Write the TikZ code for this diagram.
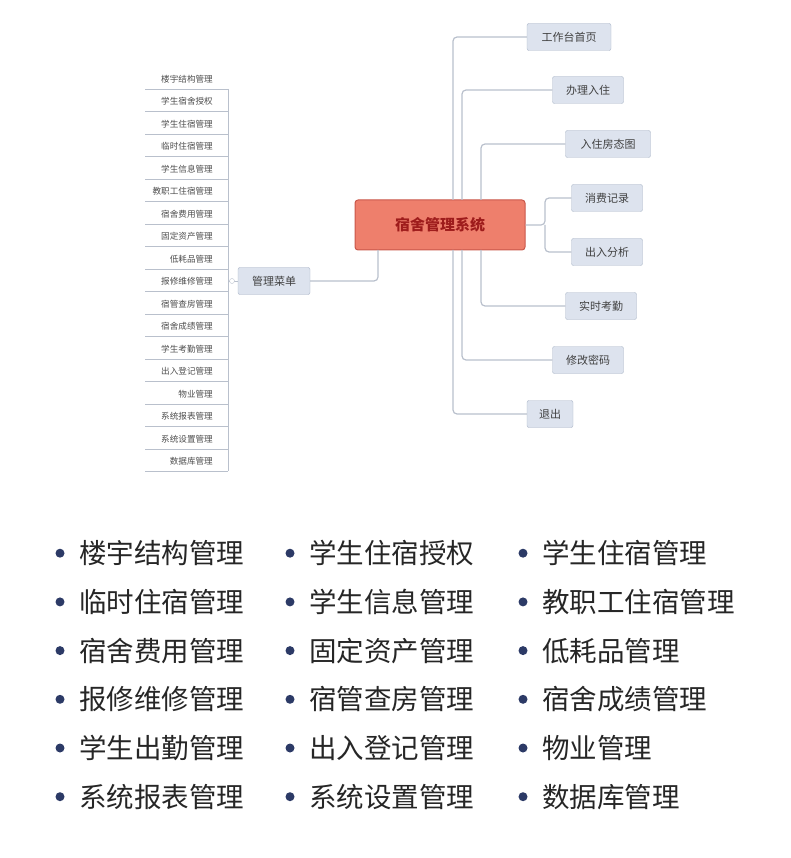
\documentclass[tikz,border=0pt]{standalone}
\usepackage{fontspec}
\setmainfont{Noto Sans CJK SC}
\usetikzlibrary{positioning}
\definecolor{boxfill}{HTML}{DDE3EE}
\definecolor{boxline}{HTML}{A9B4C6}
\definecolor{wire}{HTML}{B9C0CC}
\definecolor{rootfill}{HTML}{EE7F6C}
\definecolor{rootline}{HTML}{C9574A}
\definecolor{roottext}{HTML}{9E1C1C}
\definecolor{dotblue}{HTML}{2C3A66}
\tikzset{
  topic/.style={draw=boxline, fill=boxfill, rounded corners=2pt, inner sep=0, minimum height=27, font=\fontsize{11}{13}\selectfont, text=black!75},
  leaf/.style={inner sep=0, anchor=east, font=\fontsize{8.6}{10}\selectfont, text=black!70},
  wireline/.style={draw=wire, line width=1.2pt, rounded corners=4pt},
  item/.style={anchor=west, inner sep=0, font=\fontsize{27.5}{30}\selectfont, text=black!85}
}
\begin{document}
\begin{tikzpicture}[x=1pt, y=-1pt]
	\useasboundingbox (0,0) rectangle (790,858);
	
	\node (root) at (440,225) [draw=rootline, line width=1pt, fill=rootfill, rounded corners=3pt, minimum width=170, minimum height=50, font=\fontsize{15}{17}\selectfont\bfseries, text=roottext] {宿舍管理系统};
	
	\node (r1) at (569,37) [topic, minimum width=84] {工作台首页};
	\node (r2) at (588,90) [topic, minimum width=71] {办理入住};
	\node (r3) at (608,144) [topic, minimum width=85] {入住房态图};
	\node (r4) at (607,198) [topic, minimum width=71] {消费记录};
	\node (r5) at (607,252) [topic, minimum width=71] {出入分析};
	\node (r6) at (601,306) [topic, minimum width=71] {实时考勤};
	\node (r7) at (588,360) [topic, minimum width=71] {修改密码};
	\node (r8) at (550,414) [topic, minimum width=46] {退出};
	\node (menu) at (274,281) [topic, minimum width=72] {管理菜单};
	
	\draw[wireline] (453,200) |- (r1.west);
	\draw[wireline] (453,250) |- (r8.west);
	\draw[wireline] (462,200) |- (r2.west);
	\draw[wireline] (462,250) |- (r7.west);
	\draw[wireline] (481,200) |- (r3.west);
	\draw[wireline] (481,250) |- (r6.west);
	\draw[wireline] (root.east) -- (545,225) |- (r4.west);
	\draw[wireline] (545,225) |- (r5.west);
	\draw[wireline] (378,250) |- (menu.east);
	
	% left menu items
	\foreach \name [count=\i] in {楼宇结构管理,学生宿舍授权,学生住宿管理,临时住宿管理,学生信息管理,教职工住宿管理,宿舍费用管理,固定资产管理,低耗品管理,报修维修管理,宿管查房管理,宿舍成绩管理,学生考勤管理,出入登记管理,物业管理,系统报表管理,系统设置管理,数据库管理} {
		\node (m\i) at (213,{56.5+22.5*\i}) [leaf] {\name};
		\draw[draw=wire, line width=0.8pt] (145,{66.5+22.5*\i}) -- (228,{66.5+22.5*\i});
	}
	\draw[draw=wire, line width=0.8pt] (228,89) -- (228,471);
	\coordinate (hub) at (228,281);
	\draw[draw=wire, line width=0.8pt] (menu.west) -- (hub);
	\node (knob) at (232,281) [circle, draw=wire, fill=white, inner sep=0, minimum size=5] {};
	
	% bottom list
	\foreach \a/\b/\c [count=\i] in {楼宇结构管理/学生住宿授权/学生住宿管理, 临时住宿管理/学生信息管理/教职工住宿管理, 宿舍费用管理/固定资产管理/低耗品管理, 报修维修管理/宿管查房管理/宿舍成绩管理, 学生出勤管理/出入登记管理/物业管理, 系统报表管理/系统设置管理/数据库管理} {
		\node (a\i) at (79,{504.5+48.7*\i}) [item] {\a};
		\node (b\i) at (309,{504.5+48.7*\i}) [item] {\b};
		\node (c\i) at (542,{504.5+48.7*\i}) [item] {\c};
		\fill[dotblue] (60,{504.5+48.7*\i}) circle (4.5) (290,{504.5+48.7*\i}) circle (4.5) (523,{504.5+48.7*\i}) circle (4.5);
	}
\end{tikzpicture}
\end{document}
